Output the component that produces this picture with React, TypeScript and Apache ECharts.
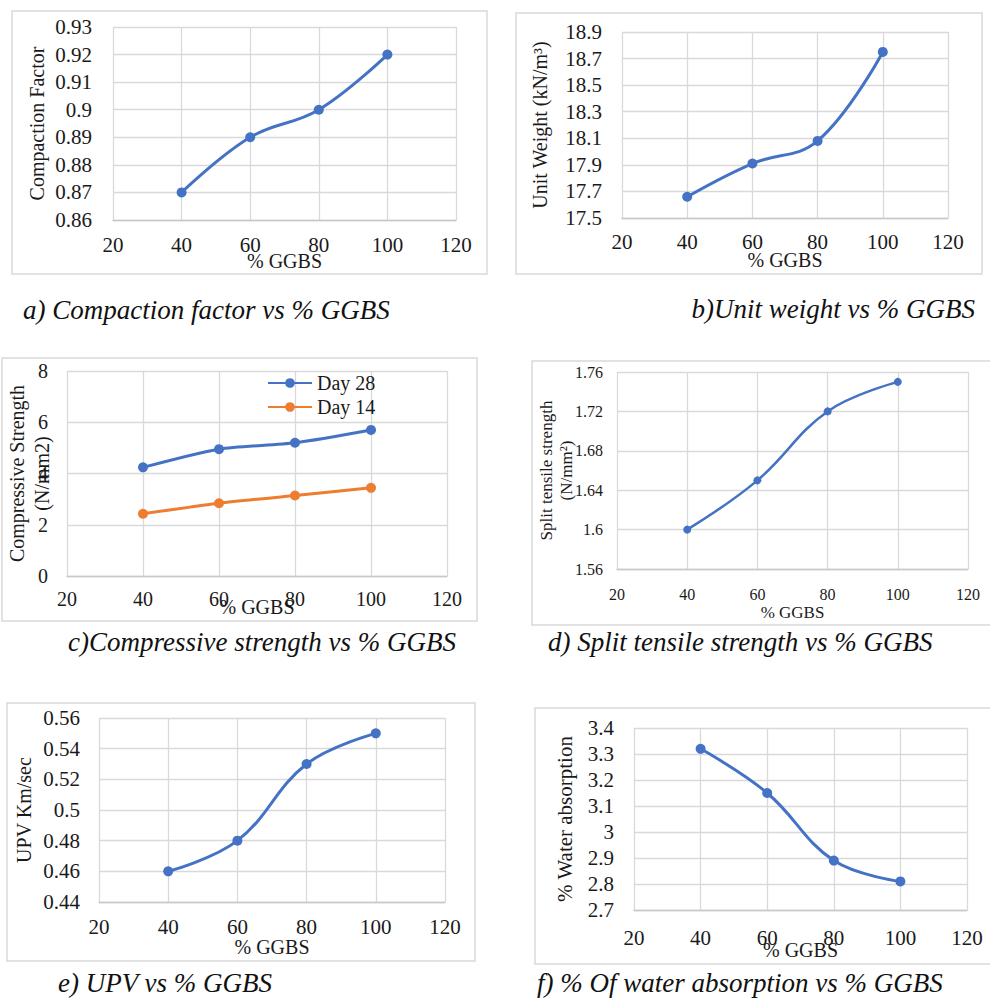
import React, { useEffect, useRef } from "react";
import * as echarts from "echarts";

const ggbsPercent = [40, 60, 80, 100];
const xTicks = { min: 20, max: 120, interval: 20 };

const compactionFactor = [0.87, 0.89, 0.9, 0.92];
const unitWeight = [17.66, 17.91, 18.08, 18.75];
const compressiveDay28 = [4.24, 4.95, 5.2, 5.7];
const compressiveDay14 = [2.43, 2.84, 3.14, 3.44];
const splitTensile = [1.6, 1.65, 1.72, 1.75];
const upv = [0.46, 0.48, 0.53, 0.55];
const waterAbsorption = [3.32, 3.15, 2.89, 2.81];

const legendNames = ["Day 28", "Day 14"];
const captions = [
  "a) Compaction factor vs % GGBS",
  "b)Unit weight vs % GGBS",
  "c)Compressive strength vs % GGBS",
  "d) Split tensile strength vs % GGBS",
  "e) UPV vs % GGBS",
  "f) % Of water absorption vs % GGBS",
];
const yTitles = [
  "Compaction Factor",
  "Unit Weight (kN/m³)",
  "Compressive Strength\n(N/mm2)",
  "Split tensile strength\n(N/mm²)",
  "UPV Km/sec",
  "% Water absorption",
];
const xTitle = "% GGBS";

const BLUE = "#4472C4";
const ORANGE = "#ED7D31";
const GRID = "#d9d9d9";
const TEXT = "#1a1a1a";
const FONT = "Liberation Serif";

const pairs = (ys: number[]) => ggbsPercent.map((x, i) => [x, ys[i]]);

type Panel = {
  grid: { left: number; top: number; width: number; height: number };
  y: { min: number; max: number; interval: number };
  tickSize: number;
  xLabelMargin: number;
  yLabelMargin: number;
  xNameGap: number;
  yNameGap: number;
  yNameSize: number;
  yNameLineHeight?: number;
  xNameSize: number;
};

const panels: Panel[] = [
  { grid: { left: 113, top: 27, width: 343, height: 193 }, y: { min: 0.86, max: 0.93, interval: 0.01 }, tickSize: 21, xLabelMargin: 13, yLabelMargin: 21, xNameGap: 30, yNameGap: 64, yNameSize: 20, xNameSize: 20 },
  { grid: { left: 622, top: 32, width: 326, height: 186 }, y: { min: 17.5, max: 18.9, interval: 0.2 }, tickSize: 21, xLabelMargin: 12, yLabelMargin: 20, xNameGap: 31, yNameGap: 70, yNameSize: 20, xNameSize: 20 },
  { grid: { left: 67, top: 371, width: 380, height: 205 }, y: { min: 0, max: 8, interval: 2 }, tickSize: 20, xLabelMargin: 12, yLabelMargin: 19, xNameGap: 20, yNameGap: 13, yNameSize: 20, yNameLineHeight: 25, xNameSize: 20 },
  { grid: { left: 617, top: 372, width: 351, height: 197 }, y: { min: 1.56, max: 1.76, interval: 0.04 }, tickSize: 16, xLabelMargin: 16, yLabelMargin: 14, xNameGap: 34, yNameGap: 41, yNameSize: 17, yNameLineHeight: 20, xNameSize: 17 },
  { grid: { left: 99, top: 718, width: 346, height: 184 }, y: { min: 0.44, max: 0.56, interval: 0.02 }, tickSize: 21, xLabelMargin: 13, yLabelMargin: 19, xNameGap: 34, yNameGap: 63, yNameSize: 20, xNameSize: 20 },
  { grid: { left: 634, top: 728, width: 333, height: 182 }, y: { min: 2.7, max: 3.4, interval: 0.1 }, tickSize: 21, xLabelMargin: 16, yLabelMargin: 20, xNameGap: 29, yNameGap: 57, yNameSize: 21, xNameSize: 20 },
];

const boxes = [
  [12, 11, 475, 263],
  [516, 13, 466, 261],
  [2, 358, 475, 263],
  [532, 361, 462, 264],
  [7, 703, 468, 258],
  [535, 708, 459, 256],
];

const captionPos: { x: number; y: number; align: string }[] = [
  { x: 23, y: 310, align: "left" },
  { x: 975, y: 309, align: "right" },
  { x: 68, y: 642, align: "left" },
  { x: 548, y: 642, align: "left" },
  { x: 58, y: 983, align: "left" },
  { x: 537, y: 983, align: "left" },
];

function buildOption() {
  const grids: any[] = [];
  const xAxes: any[] = [];
  const yAxes: any[] = [];
  panels.forEach((p, i) => {
    grids.push({ ...p.grid, containLabel: false, outerBoundsMode: "none" });
    xAxes.push({
      type: "value",
      gridIndex: i,
      ...xTicks,
      name: xTitle,
      nameLocation: "middle",
      nameGap: p.xNameGap,
      nameMoveOverlap: false,
      nameTextStyle: { fontFamily: FONT, fontSize: p.xNameSize, color: TEXT, lineHeight: p.xNameSize + 2 },
      axisLine: { show: true, lineStyle: { color: "#c8c8c8", width: 1.3 } },
      axisTick: { show: false },
      axisLabel: { fontFamily: FONT, fontSize: p.tickSize, color: TEXT, margin: p.xLabelMargin, lineHeight: p.tickSize + 2, hideOverlap: false },
      splitLine: { show: true, lineStyle: { color: GRID, width: 1.3 } },
    });
    yAxes.push({
      type: "value",
      gridIndex: i,
      ...p.y,
      name: yTitles[i],
      nameLocation: "middle",
      nameGap: p.yNameGap,
      nameMoveOverlap: false,
      nameTextStyle: {
        fontFamily: FONT,
        fontSize: p.yNameSize,
        color: TEXT,
        lineHeight: p.yNameLineHeight || p.yNameSize + 4,
      },
      axisLine: { show: false },
      axisTick: { show: false },
      axisLabel: { fontFamily: FONT, fontSize: p.tickSize, color: TEXT, margin: p.yLabelMargin, lineHeight: p.tickSize + 2, hideOverlap: false },
      splitLine: { show: true, lineStyle: { color: GRID, width: 1.3 } },
    });
  });

  const lineSeries = (name: string, idx: number, ys: number[], color: string, smooth: any, sym = 10, lw = 3) => ({
    type: "line",
    name,
    xAxisIndex: idx,
    yAxisIndex: idx,
    data: pairs(ys),
    smooth,
    symbol: "circle",
    symbolSize: sym,
    lineStyle: { color, width: lw },
    itemStyle: { color },
    z: 5,
  });

  const series = [
    lineSeries("Compaction", 0, compactionFactor, BLUE, 0.4),
    lineSeries("UnitWeight", 1, unitWeight, BLUE, 0.4),
    lineSeries(legendNames[0], 2, compressiveDay28, BLUE, 0.25),
    lineSeries(legendNames[1], 2, compressiveDay14, ORANGE, 0.25),
    lineSeries("Split", 3, splitTensile, BLUE, 0.4, 8, 2.5),
    lineSeries("UPV", 4, upv, BLUE, 0.4),
    lineSeries("Water", 5, waterAbsorption, BLUE, 0.4),
  ];

  const graphics: any[] = [];
  boxes.forEach(([x, y, w, h]) => {
    graphics.push({
      type: "rect",
      shape: { x, y, width: w, height: h },
      style: { fill: "none", stroke: "#d9d9d9", lineWidth: 1.5 },
      z: 0,
    });
  });
  captions.forEach((c, i) => {
    const cp = captionPos[i];
    graphics.push({
      type: "text",
      x: cp.x,
      y: cp.y,
      style: {
        text: c,
        fontFamily: FONT,
        fontStyle: "italic",
        fontSize: 27,
        fill: "#111",
        textAlign: cp.align,
        textVerticalAlign: "middle",
      },
    });
  });

  return {
    animation: false,
    backgroundColor: "#ffffff",
    textStyle: { fontFamily: FONT },
    grid: grids,
    xAxis: xAxes,
    yAxis: yAxes,
    legend: {
      data: legendNames,
      orient: "vertical",
      left: 262,
      top: 367,
      itemWidth: 44,
      itemHeight: 12,
      itemGap: 2,
      textStyle: { fontFamily: FONT, fontSize: 20, color: TEXT, lineHeight: 22 },
    },
    series,
    graphic: graphics,
  };
}

export default function App() {
  const ref = useRef<HTMLDivElement>(null);
  useEffect(() => {
    if (!ref.current) return;
    const chart = echarts.init(ref.current, undefined, { renderer: "svg" });
    chart.setOption(buildOption() as any);
    return () => chart.dispose();
  }, []);
  return (
    <div
      ref={ref}
      style={{ position: "fixed", left: 0, top: 0, width: 990, height: 998, background: "#fff" }}
    />
  );
}
